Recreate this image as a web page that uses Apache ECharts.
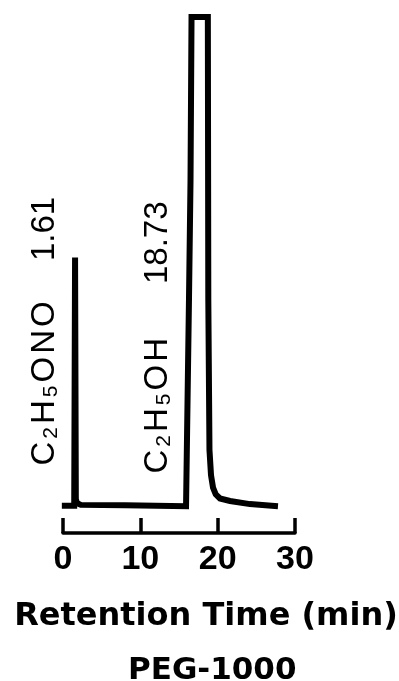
<!DOCTYPE html>
<html>
<head>
<meta charset="utf-8">
<script src="https://cdn.jsdelivr.net/npm/echarts@6/dist/echarts.min.js"></script>
<style>
  html, body { margin: 0; padding: 0; background: #fff; }
  #chart { width: 399px; height: 681px; }
</style>
</head>
<body>
<div id="chart"></div>
<script>
// Gas chromatogram on a PEG-1000 column
const compoundNames = ['C2H5ONO', 'C2H5OH'];
const retentionTimes = [1.61, 18.73];
const timeTicks = [0, 10, 20, 30];
const axisTitle = 'Retention Time (min)';
const columnName = 'PEG-1000';

// detector trace: time (min) and signal (relative, saturated at 100)
const traceTime = [
  -0.15, 1.45, 1.56, 1.66, 1.80, 2.30, 8.00, 15.91,
  16.29, 16.49, 16.62, 18.73, 18.79, 18.94, 19.14, 19.40,
  19.75, 20.30, 21.60, 24.18, 27.80
];
const traceSignal = [
  5.3, 5.3, 53.4, 6.6, 5.8, 5.45, 5.4, 5.2,
  45.2, 68.4, 100, 100, 45.2, 16.1, 11.2, 8.8,
  7.5, 6.7, 6.2, 5.6, 5.2
];

const chart = echarts.init(document.getElementById('chart'), null, { renderer: 'canvas' });

const trace = traceTime.map((t, i) => [t, traceSignal[i]]);

chart.setOption({
  animation: false,
  backgroundColor: '#fff',
  title: {
    text: columnName,
    left: 128,
    top: 655,
    padding: 0,
    textStyle: { fontFamily: 'DejaVu Sans', fontWeight: 'bold', fontSize: 31, color: '#000' }
  },
  grid: { left: 63, right: 104, top: 17, bottom: 148, containLabel: false, outerBoundsMode: 'none' },
  xAxis: {
    type: 'value',
    min: timeTicks[0],
    max: timeTicks[timeTicks.length - 1],
    interval: timeTicks[1] - timeTicks[0],
    name: axisTitle,
    nameLocation: 'middle',
    nameGap: 68,
    nameTextStyle: {
      fontFamily: 'DejaVu Sans', fontWeight: 'bold', fontSize: 32, color: '#000',
      padding: [0, 0, 0, 54]
    },
    axisLine: { lineStyle: { color: '#000', width: 3.5 } },
    axisTick: { inside: true, length: 15, lineStyle: { color: '#000', width: 3.5 } },
    axisLabel: {
      margin: 10, fontFamily: 'Liberation Sans', fontWeight: 'bold', fontSize: 34, color: '#000',
      showMinLabel: true, showMaxLabel: true
    },
    splitLine: { show: false }
  },
  yAxis: { type: 'value', min: 0, max: 100, show: false },
  series: [{
    type: 'line',
    data: trace,
    symbol: 'none',
    clip: false,
    smooth: false,
    lineStyle: { color: '#000', width: 6, join: 'miter', cap: 'butt' }
  }]
});

// vertical peak labels, placed relative to each peak's retention time
const labelShiftX = [-30.5, -49.8];
const nameStartY = [467, 475];
const timeStartY = [261, 284];

const mainFont = '33px "Liberation Sans", Arial, sans-serif';
const subFont = '21px "Liberation Sans", Arial, sans-serif';

function formulaRich(formula) {
  return formula.split('').map(c => /\d/.test(c) ? '{s|' + c + '}' : '{m|' + c + '}').join('');
}

const richStyles = {
  m: { font: mainFont, fontFamily: 'Liberation Sans', fontSize: 33, fill: '#000', padding: [0, 1.5, 0, 1.5] },
  s: { font: subFont, fontFamily: 'Liberation Sans', fontSize: 21, fill: '#000', padding: [12, 1.5, 0, 1.5] }
};

const labels = [];
retentionTimes.forEach((rt, i) => {
  const px = chart.convertToPixel({ gridIndex: 0 }, [rt, 0])[0] + labelShiftX[i];
  labels.push({
    type: 'text',
    x: px,
    y: nameStartY[i],
    rotation: Math.PI / 2,
    style: {
      text: formulaRich(compoundNames[i]),
      rich: richStyles,
      font: mainFont,
      align: 'left',
      verticalAlign: 'middle',
      fill: '#000'
    }
  });
  labels.push({
    type: 'text',
    x: px,
    y: timeStartY[i],
    rotation: Math.PI / 2,
    style: {
      text: rt.toFixed(2),
      font: mainFont,
      fill: '#000',
      align: 'left',
      verticalAlign: 'middle'
    }
  });
});

chart.setOption({ graphic: labels });
</script>
</body>
</html>
